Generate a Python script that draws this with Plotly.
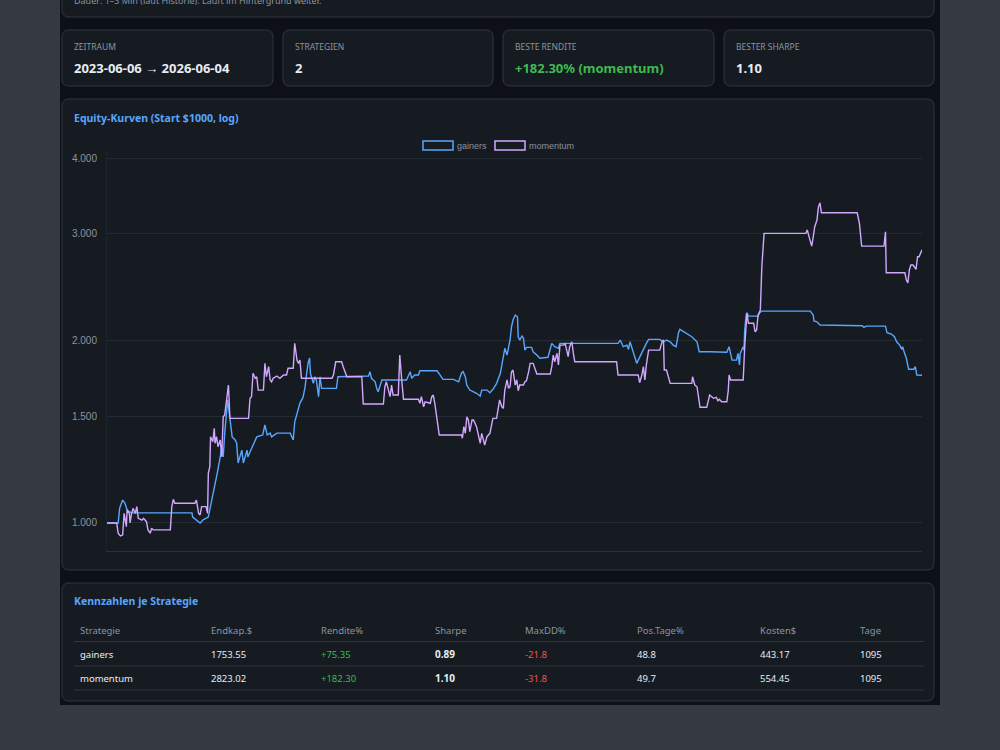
import math
import pandas as pd
import plotly.graph_objects as go

# ---------------- data ----------------
start_date = "2023-06-06"
end_date = "2026-06-04"

gainers_day = [0, 15, 17, 21, 24, 27, 30, 34, 114, 115, 125, 129, 136, 138, 142, 148, 152, 154, 156, 158,
               162, 165, 168, 172, 174, 176, 181, 183, 188, 189, 195, 199, 201, 209, 212, 215, 219, 221, 228, 246,
               250, 252, 256, 259, 263, 266, 268, 270, 272, 273, 277, 279, 281, 284, 286, 288, 308, 310, 351, 353,
               355, 360, 362, 364, 369, 402, 407, 409, 413, 418, 420, 443, 447, 451, 465, 472, 476, 478, 481, 483,
               487, 492, 496, 501, 503, 510, 514, 519, 523, 528, 532, 534, 537, 541, 543, 545, 548, 551, 552, 554,
               557, 559, 561, 563, 570, 572, 577, 581, 592, 595, 597, 601, 606, 608, 686, 689, 693, 698, 700, 702,
               706, 709, 711, 715, 720, 724, 727, 742, 747, 751, 756, 760, 764, 767, 769, 774, 778, 785, 792, 795,
               809, 832, 835, 839, 845, 847, 849, 850, 852, 854, 855, 856, 858, 859, 861, 874, 876, 879, 944, 948,
               949, 953, 957, 1014, 1016, 1019, 1045, 1047, 1053, 1057, 1060, 1064, 1067, 1068, 1070, 1073, 1076, 1083, 1085, 1087,
               1094]
gainers_val = [1000, 1000, 1058, 1091, 1079, 1051, 1043, 1039, 1039, 1023, 1000, 1012, 1023, 1051, 1104, 1209, 1285, 1335, 1285, 1407,
               1596, 1496, 1387, 1371, 1355, 1256, 1319, 1256, 1319, 1285, 1335, 1371, 1387, 1397, 1451, 1397, 1407, 1387, 1407, 1407,
               1371, 1467, 1537, 1577, 1610, 1679, 1766, 1837, 1872, 1766, 1700, 1743, 1722, 1616, 1743, 1668, 1668, 1743, 1748, 1777,
               1733, 1710, 1668, 1647, 1722, 1722, 1777, 1733, 1755, 1755, 1783, 1783, 1755, 1726, 1726, 1710, 1770, 1777, 1743, 1689,
               1657, 1647, 1637, 1620, 1657, 1657, 1640, 1668, 1700, 1766, 1870, 1942, 1893, 2004, 2108, 2162, 2204, 2189, 2029, 2004,
               2035, 2017, 1929, 1949, 1949, 1917, 1893, 1870, 1877, 1929, 1979, 1954, 1942, 1979, 1979, 2004, 1954, 1966, 1934, 1991,
               1929, 1870, 1834, 1881, 1929, 1979, 2009, 2009, 1991, 2004, 1991, 1966, 1954, 2056, 2087, 2068, 2056, 2029, 1991, 1917,
               1917, 1913, 1954, 1857, 1857, 1905, 1823, 1905, 1929, 1954, 1929, 2082, 2204, 2223, 2195, 2195, 2223, 2237, 2237, 2204,
               2154, 2148, 2122, 2116, 2103, 2113, 2113, 2060, 2050, 2029, 1991, 1966, 1934, 1954, 1917, 1870, 1793, 1793, 1811, 1755,
               1753.55]

momentum_day = [0, 13, 15, 18, 21, 23, 26, 27, 30, 31, 33, 35, 38, 40, 42, 47, 49, 51, 53, 55,
                58, 60, 62, 85, 87, 89, 91, 118, 120, 123, 125, 127, 133, 135, 136, 138, 139, 142, 144, 145,
                147, 149, 152, 154, 156, 158, 161, 163, 165, 190, 192, 194, 196, 199, 201, 203, 210, 212, 214, 217,
                219, 221, 223, 228, 232, 237, 241, 243, 250, 252, 255, 257, 259, 261, 302, 304, 307, 315, 317, 319,
                322, 342, 344, 371, 373, 375, 378, 380, 382, 384, 391, 393, 396, 398, 418, 420, 422, 425, 427, 434,
                436, 438, 440, 443, 446, 476, 477, 479, 481, 483, 485, 487, 490, 492, 496, 498, 501, 503, 505, 507,
                510, 514, 518, 523, 527, 530, 532, 534, 537, 539, 541, 543, 545, 548, 550, 552, 554, 559, 561, 563,
                566, 568, 572, 575, 577, 595, 597, 599, 601, 604, 606, 608, 613, 615, 617, 619, 621, 624, 626, 628,
                684, 686, 713, 715, 718, 720, 722, 724, 727, 742, 745, 747, 748, 751, 756, 785, 786, 789, 792, 794,
                796, 805, 807, 809, 814, 818, 820, 822, 825, 832, 834, 835, 837, 854, 856, 859, 861, 868, 870, 872,
                874, 877, 879, 882, 938, 940, 943, 946, 948, 950, 953, 955, 957, 959, 1007, 1010, 1013, 1043, 1045, 1046,
                1071, 1073, 1075, 1077, 1079, 1082, 1086, 1088, 1090, 1092, 1094]
momentum_val = [1000, 1000, 962, 952, 955, 1037, 986, 1051, 1037, 1000, 1037, 1057, 1037, 1064, 1018, 1011, 1018, 1011, 1005, 974,
                962, 980, 974, 974, 1064, 1094, 1078, 1078, 1091, 1037, 1031, 1064, 1064, 1037, 1208, 1239, 1388, 1362, 1433, 1354,
                1388, 1336, 1371, 1286, 1497, 1507, 1596, 1689, 1488, 1488, 1606, 1616, 1766, 1733, 1743, 1657, 1657, 1834, 1743, 1811,
                1722, 1710, 1733, 1748, 1733, 1755, 1755, 1800, 1800, 1979, 1857, 1834, 1857, 1733, 1733, 1755, 1845, 1845, 1811, 1777,
                1743, 1743, 1572, 1572, 1678, 1710, 1647, 1616, 1689, 1626, 1626, 1893, 1700, 1600, 1600, 1576, 1616, 1555, 1585, 1576,
                1616, 1626, 1576, 1497, 1397, 1397, 1380, 1442, 1406, 1497, 1479, 1415, 1479, 1479, 1442, 1406, 1354, 1406, 1371, 1345,
                1388, 1406, 1488, 1488, 1596, 1555, 1546, 1657, 1722, 1668, 1678, 1777, 1788, 1689, 1722, 1653, 1689, 1689, 1710, 1716,
                1777, 1834, 1834, 1788, 1761, 1761, 1811, 1893, 1845, 1905, 1823, 1966, 1966, 1979, 1929, 1881, 1954, 1991, 1905, 1845,
                1845, 1755, 1755, 1704, 1755, 1811, 1722, 1823, 1929, 1929, 1991, 2004, 1788, 1788, 1700, 1700, 1743, 1689, 1678, 1606,
                1552, 1552, 1596, 1626, 1606, 1612, 1591, 1600, 1585, 1585, 1657, 1755, 1722, 1722, 1954, 2218, 2136, 2136, 2068, 2082,
                2204, 2246, 2647, 3006, 3006, 3044, 2949, 2864, 2967, 3082, 3161, 3325, 3376, 3250, 3250, 3122, 2864, 2864, 3024, 2588,
                2588, 2517, 2491, 2615, 2665, 2665, 2622, 2750, 2750, 2786, 2823.02]

y_ticks = [1000, 1500, 2000, 3000, 4000]

strategies = ["gainers", "momentum"]
endkap = [1753.55, 2823.02]
rendite = [75.35, 182.30]
sharpe = [0.89, 1.10]
maxdd = [-21.8, -31.8]
pos_tage = [48.8, 49.7]
kosten = [443.17, 554.45]
tage = [1095, 1095]
table_headers = ["Strategie", "Endkap.$", "Rendite%", "Sharpe", "MaxDD%", "Pos.Tage%", "Kosten$", "Tage"]

# ---------------- styling ----------------
W, H = 1000, 750
L, R, T, B = 107, 922, 150, 551  # plot area in pixels
OUTER = "#343a40"
PAGE = "#0d1117"
CARD = "#161b22"
BORDER = "#30363d"
GRID = "#252b33"
MUTED = "#8b949e"
TEXT = "#e6edf3"
ACCENT = "#58a6ff"
GREEN = "#3fb950"
RED = "#f85149"
C_GAIN = "#58a6ff"
C_MOM = "#d2a8ff"
UI_FONT = "Noto Sans"
CHART_FONT = "Liberation Sans"


def px(xp):
    return (xp - L) / (R - L)


def py(yp):
    return (B - yp) / (B - T)


def rrect_path(x0, y0, x1, y1, r):
    pts = [
        ("M", (x0 + r, y0)), ("L", (x1 - r, y0)), ("Q", (x1, y0), (x1, y0 + r)),
        ("L", (x1, y1 - r)), ("Q", (x1, y1), (x1 - r, y1)),
        ("L", (x0 + r, y1)), ("Q", (x0, y1), (x0, y1 - r)),
        ("L", (x0, y0 + r)), ("Q", (x0, y0), (x0 + r, y0)),
    ]
    s = ""
    for p in pts:
        cmd = p[0]
        coords = " ".join(f"{px(a):.5f},{py(b):.5f}" for a, b in p[1:])
        s += f"{cmd}{coords} "
    return s + "Z"


shapes = []
annotations = []


def card(x0, y0, x1, y1, fill=CARD, line=BORDER, r=7):
    shapes.append(dict(type="path", path=rrect_path(x0, y0, x1, y1, r), xref="paper", yref="paper",
                       fillcolor=fill, line=dict(color=line, width=1), layer="below"))


def text(x, y, s, size=10, color=TEXT, bold=False, family=UI_FONT, anchor="left"):
    if bold:
        s = f"<b>{s}</b>"
    annotations.append(dict(x=px(x - 2), y=py(y), xref="paper", yref="paper", text=s, showarrow=False,
                            xanchor=anchor, yanchor="middle", font=dict(size=size, color=color, family=family)))


# page container
shapes.append(dict(type="rect", x0=px(60), x1=px(940), y0=py(705), y1=py(-5), xref="paper", yref="paper",
                   fillcolor=PAGE, line=dict(width=0), layer="below"))

# top (partially visible) card
card(62, -30, 934, 17)
text(74, 1, "Dauer: 1–3 Min (laut Historie). Läuft im Hintergrund weiter.", size=9, color=MUTED)

# KPI cards
best_i = max(range(len(rendite)), key=lambda i: rendite[i])
kpis = [
    ("ZEITRAUM", f"{start_date} → {end_date}", TEXT),
    ("STRATEGIEN", f"{len(strategies)}", TEXT),
    ("BESTE RENDITE", f"+{rendite[best_i]:.2f}% ({strategies[best_i]})", GREEN),
    ("BESTER SHARPE", f"{max(sharpe):.2f}", TEXT),
]
kpi_x = [(62, 273), (283, 493), (503, 714), (724, 934)]
for (x0, x1), (lab, val, col) in zip(kpi_x, kpis):
    card(x0, 30, x1, 86)
    text(x0 + 12, 47, lab, size=8.5, color=MUTED)
    text(x0 + 12, 68, val, size=13, color=col, bold=True)

# chart card
card(62, 99, 934, 570)
text(74, 118, "Equity-Kurven (Start $1000, log)", size=10.5, color=ACCENT, bold=True)

# legend (box style)
for (bx0, bx1, tx, name, col) in [(423, 453, 457, "gainers", C_GAIN), (495, 525, 529, "momentum", C_MOM)]:
    shapes.append(dict(type="rect", x0=px(bx0), x1=px(bx1), y0=py(150), y1=py(141), xref="paper", yref="paper",
                       line=dict(color=col, width=1.5), fillcolor="rgba(0,0,0,0)"))
    text(tx, 145.5, name, size=9, color=MUTED, family=CHART_FONT)

# table card
card(62, 583, 934, 701)
text(74, 601, "Kennzahlen je Strategie", size=10.5, color=ACCENT, bold=True)
col_x = [80, 211, 321, 435, 525, 637, 760, 860]
for cx, h in zip(col_x, table_headers):
    text(cx, 630, h, size=9.5, color=MUTED)
for yl in [641.5, 666, 690]:
    shapes.append(dict(type="line", x0=px(74), x1=px(924), y0=py(yl), y1=py(yl), xref="paper", yref="paper",
                       line=dict(color=BORDER, width=1)))
for i, s in enumerate(strategies):
    yr = 654 + 24 * i
    cells = [
        (s, TEXT, False), (f"{endkap[i]:.2f}", TEXT, False), (f"+{rendite[i]:.2f}", GREEN, False),
        (f"{sharpe[i]:.2f}", TEXT, True), (f"{maxdd[i]:.1f}", RED, False), (f"{pos_tage[i]:.1f}", TEXT, False),
        (f"{kosten[i]:.2f}", TEXT, False), (f"{tage[i]}", TEXT, False),
    ]
    for cx, (v, col, bold) in zip(col_x, cells):
        text(cx, yr, v, size=10 if bold else 9.5, color=col, bold=bold)

# ---------------- traces ----------------
t0 = pd.Timestamp(start_date)
g_dates = t0 + pd.to_timedelta(gainers_day, unit="D")
m_dates = t0 + pd.to_timedelta(momentum_day, unit="D")

fig = go.Figure()
fig.add_trace(go.Scatter(x=g_dates, y=gainers_val, mode="lines", name="gainers",
                         line=dict(color=C_GAIN, width=1.4)))
fig.add_trace(go.Scatter(x=m_dates, y=momentum_val, mode="lines", name="momentum",
                         line=dict(color=C_MOM, width=1.4)))

fig.update_layout(
    width=W, height=H,
    margin=dict(l=L, r=W - R, t=T, b=H - B, pad=0),
    paper_bgcolor=OUTER, plot_bgcolor="rgba(0,0,0,0)",
    showlegend=False,
    separators=",.",
    font=dict(family=CHART_FONT, color=MUTED, size=10),
    xaxis=dict(type="date", range=[t0, pd.Timestamp(end_date)], showgrid=False, showticklabels=False,
               zeroline=False, showline=True, linecolor="#2a3038", linewidth=1, ticks=""),
    yaxis=dict(type="log", range=[math.log10(899), math.log10(4126)], tickvals=y_ticks,
               tickformat=",d", showgrid=True, gridcolor=GRID, gridwidth=1, zeroline=False,
               showline=True, linecolor="#1d232a", ticks="", ticklabelstandoff=7,
               tickfont=dict(size=10, color=MUTED, family=CHART_FONT)),
    shapes=shapes, annotations=annotations,
)

fig.write_html("out.html")
